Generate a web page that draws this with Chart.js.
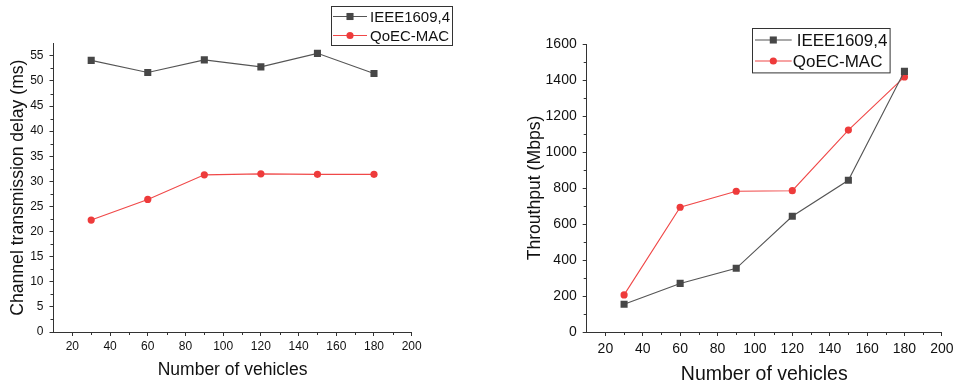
<!DOCTYPE html>
<html lang="en">
<head>
<meta charset="UTF-8">
<title>Delay and throughput vs. number of vehicles</title>
<script src="https://cdn.jsdelivr.net/npm/chart.js"></script>
<style>
  body { margin: 0; background: #fff; }
  .panel { position: absolute; top: 0; height: 388px; }
  #delayPanel { left: 0; width: 480px; }
  #tputPanel { left: 480px; width: 478px; }
</style>
</head>
<body>
<div class="panel" id="delayPanel"><canvas id="delayChart"></canvas></div>
<div class="panel" id="tputPanel"><canvas id="tputChart"></canvas></div>

<script>
// simulation results
const vehicles = [30, 60, 90, 120, 150, 180];
const seriesNames = ['IEEE1609,4', 'QoEC-MAC'];
const delayIeee = [54.1, 51.7, 54.2, 52.8, 55.5, 51.5];
const delayQoec = [22.3, 26.4, 31.3, 31.5, 31.4, 31.4];
const tputIeee = [154, 270, 354, 643, 843, 1448];
const tputQoec = [206, 693, 782, 785, 1122, 1417];

const axisColor = '#333';
const textColor = '#111';
const fontFamily = '"Liberation Sans", Arial, sans-serif';

Chart.defaults.font.family = fontFamily;
Chart.defaults.color = textColor;

function isMultiple(v, step) {
    return Math.abs(v / step - Math.round(v / step)) < 1e-6;
}

// short unlabelled ticks between the major ones
const minorTicks = {
    id: 'minorTicks',
    afterDraw(chart, args, opts) {
        const ctx = chart.ctx;
        ctx.save();
        ctx.strokeStyle = axisColor;
        ctx.lineWidth = 1;
        ['x', 'y'].forEach(id => {
            const scale = chart.scales[id];
            scale.ticks.forEach(t => {
                if (isMultiple(t.value, opts[id]) || t.value === scale.min || t.value === scale.max) return;
                const p = Math.round(scale.getPixelForValue(t.value)) + 0.5;
                ctx.beginPath();
                if (id === 'x') {
                    ctx.moveTo(p, scale.top);
                    ctx.lineTo(p, scale.top + 3);
                } else {
                    ctx.moveTo(scale.right, p);
                    ctx.lineTo(scale.right - 3, p);
                }
                ctx.stroke();
            });
        });
        ctx.restore();
    }
};

// framed legend with line + marker samples
const boxLegend = {
    id: 'boxLegend',
    afterDraw(chart, args, o) {
        const ctx = chart.ctx;
        ctx.save();
        ctx.strokeStyle = axisColor;
        ctx.lineWidth = 1;
        ctx.strokeRect(Math.round(o.x) + 0.5, Math.round(o.y) + 0.5, o.w, o.h);
        ctx.font = o.fontSize + 'px ' + fontFamily;
        ctx.textBaseline = 'middle';
        chart.data.datasets.forEach((ds, i) => {
            const cy = o.y + o.rows[i];
            ctx.strokeStyle = ds.borderColor;
            ctx.lineWidth = ds.borderWidth;
            ctx.beginPath();
            ctx.moveTo(o.x + o.lineFrom, cy);
            ctx.lineTo(o.x + o.lineTo, cy);
            ctx.stroke();
            ctx.fillStyle = ds.pointBackgroundColor;
            const mx = o.x + o.marker;
            ctx.beginPath();
            if (ds.pointStyle === 'rect') {
                const s = ds.pointRadius * Math.SQRT1_2;
                ctx.rect(mx - s, cy - s, 2 * s, 2 * s);
            } else {
                ctx.arc(mx, cy, ds.pointRadius, 0, Math.PI * 2);
            }
            ctx.fill();
            ctx.fillStyle = textColor;
            ctx.fillText(ds.label, o.x + o.textX[i], cy + 1);
        });
        ctx.restore();
    }
};

function toPoints(ys) {
    return vehicles.map((x, i) => ({ x: x, y: ys[i] }));
}

function makeChart(canvasId, c) {
    return new Chart(document.getElementById(canvasId), {
        type: 'line',
        data: {
            datasets: [
                {
                    label: seriesNames[0],
                    data: toPoints(c.ieee),
                    borderColor: '#555',
                    borderWidth: 1.1,
                    pointStyle: 'rect',
                    pointRadius: 5,
                    pointBorderWidth: 0,
                    pointBackgroundColor: '#474747'
                },
                {
                    label: seriesNames[1],
                    data: toPoints(c.qoec),
                    borderColor: '#f04848',
                    borderWidth: 1.1,
                    pointStyle: 'circle',
                    pointRadius: 3.6,
                    pointBorderWidth: 0,
                    pointBackgroundColor: '#ee3b3b'
                }
            ]
        },
        options: {
            responsive: true,
            maintainAspectRatio: false,
            animation: false,
            layout: { padding: c.padding },
            plugins: {
                legend: { display: false },
                tooltip: { enabled: false },
                minorTicks: { x: 20, y: c.yMajor },
                boxLegend: c.legend
            },
            scales: {
                x: {
                    type: 'linear',
                    min: 10,
                    max: 200,
                    afterFit: s => { s.height = 56; },
                    border: { display: true, color: axisColor, width: 1 },
                    grid: {
                        drawOnChartArea: false,
                        tickLength: 4,
                        tickColor: ctx => isMultiple(ctx.tick.value, 20) ? axisColor : 'rgba(0,0,0,0)'
                    },
                    ticks: {
                        stepSize: 10,
                        autoSkip: false,
                        maxRotation: 0,
                        padding: c.xTickPad,
                        font: { size: c.tickSize },
                        callback: v => isMultiple(v, 20) ? v : ''
                    },
                    title: {
                        display: true,
                        text: 'Number of vehicles',
                        font: { size: c.xTitleSize },
                        padding: { top: 0, bottom: c.xTitlePad }
                    }
                },
                y: {
                    type: 'linear',
                    min: 0,
                    max: c.yMax,
                    afterFit: s => { s.width = c.yWidth; },
                    border: { display: true, color: axisColor, width: 1 },
                    grid: {
                        drawOnChartArea: false,
                        tickLength: 4,
                        tickColor: ctx => isMultiple(ctx.tick.value, c.yMajor) ? axisColor : 'rgba(0,0,0,0)'
                    },
                    ticks: {
                        stepSize: c.yMajor / 2,
                        autoSkip: false,
                        padding: 6,
                        font: { size: c.tickSize },
                        callback: v => isMultiple(v, c.yMajor) ? v : ''
                    },
                    title: {
                        display: true,
                        text: c.yTitle,
                        font: { size: 17.6 },
                        padding: { top: c.yTitlePad, bottom: 0 }
                    }
                }
            }
        },
        plugins: [minorTicks, boxLegend]
    });
}

// left panel: channel transmission delay
makeChart('delayChart', {
    ieee: delayIeee,
    qoec: delayQoec,
    padding: { left: 0, right: 68.3, top: 43.3, bottom: 0 },
    yMax: 57.5,
    yMajor: 5,
    yWidth: 53.5,
    yTitle: 'Channel transmission delay (ms)',
    yTitlePad: 7.8,
    tickSize: 12,
    xTickPad: 3.5,
    xTitleSize: 17.5,
    xTitlePad: 7.5,
    legend: { x: 331, y: 6, w: 121, h: 39, rows: [10.5, 29.5], lineFrom: 2, lineTo: 36, marker: 19, textX: [39, 39], fontSize: 15 }
});

// right panel: throughput
makeChart('tputChart', {
    ieee: tputIeee,
    qoec: tputQoec,
    padding: { left: 0, right: 13.7, top: 44, bottom: 0 },
    yMax: 1600,
    yMajor: 200,
    yWidth: 106.7,
    yTitle: 'Throuthput (Mbps)',
    yTitlePad: 44.4,
    tickSize: 14,
    xTickPad: 4.5,
    xTitleSize: 19.5,
    xTitlePad: 1.3,
    legend: { x: 271.7, y: 28.3, w: 137.6, h: 44.4, rows: [11.7, 32.7], lineFrom: 3.3, lineTo: 40, marker: 21.6, textX: [45, 41], fontSize: 17 }
});
</script>
</body>
</html>
